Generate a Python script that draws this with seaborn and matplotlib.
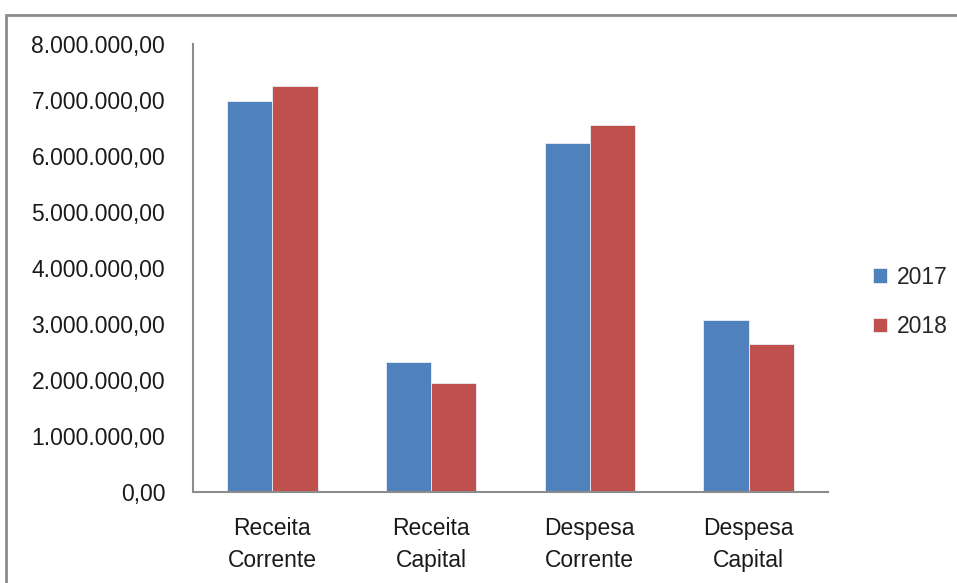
import numpy as np
import pandas as pd
import matplotlib
matplotlib.use("Agg")
import matplotlib.pyplot as plt
from matplotlib.patches import Rectangle
from matplotlib.ticker import FuncFormatter, FixedLocator, NullFormatter
import seaborn as sns

categories = ["Receita\nCorrente", "Receita\nCapital", "Despesa\nCorrente", "Despesa\nCapital"]
years = ["2017", "2018"]
values_2017 = [6_990_000, 2_320_000, 6_240_000, 3_080_000]
values_2018 = [7_250_000, 1_955_000, 6_560_000, 2_640_000]
colors = ["#4F81BD", "#C0504D"]

df = pd.DataFrame({
    "categoria": categories * 2,
    "ano": [years[0]] * len(categories) + [years[1]] * len(categories),
    "valor": values_2017 + values_2018,
})

sns.set_style("white")
plt.rcParams["font.family"] = ["Liberation Sans", "DejaVu Sans"]
FS = 16.5

W, H = 957, 583
fig = plt.figure(figsize=(W / 100, H / 100), dpi=100)
fig.patch.set_facecolor("white")

# outer chart-area border (extends past the right and bottom edges)
fig.patches.append(Rectangle((5.5 / W, -0.2), 1.5, 1.2 - 14.5 / H,
                             transform=fig.transFigure, fill=False,
                             edgecolor="#8c8c8c", linewidth=2, zorder=0))

ax = fig.add_axes([193 / W, 1 - 492 / H, (828 - 193) / W, (492 - 44) / H])
sns.barplot(data=df, x="categoria", y="valor", hue="ano", order=categories,
            hue_order=years, palette=colors, width=0.57, gap=0,
            saturation=1, edgecolor="#e8eef6", linewidth=0.6, ax=ax)

ax.set_ylim(0, 8_000_000)
ax.set_xlim(-0.5, len(categories) - 0.5)
ax.set_xlabel("")
ax.set_ylabel("")

def br_fmt(v, pos=None):
    s = f"{v:,.2f}"
    return s.replace(",", "X").replace(".", ",").replace("X", ".")

ax.yaxis.set_major_locator(FixedLocator(np.arange(0, 8_000_001, 1_000_000)))
ax.yaxis.set_major_formatter(FuncFormatter(br_fmt))

# category boundaries carry the tick marks, labels sit at centers
ax.xaxis.set_minor_locator(FixedLocator(np.arange(-0.5, len(categories), 1.0)))
ax.xaxis.set_minor_formatter(NullFormatter())
ax.tick_params(axis="x", which="major", length=0, pad=18, labelsize=FS,
               colors="#1a1a1a")
ax.tick_params(axis="x", which="minor", length=7, width=1.3, color="#8c8c8c",
               direction="out")
ax.tick_params(axis="y", which="major", length=7, width=1.3, color="#8c8c8c",
               direction="out", pad=13, labelsize=FS, labelcolor="#1a1a1a")
for lbl in ax.get_xticklabels():
    lbl.set_linespacing(1.5)

for side in ("top", "right"):
    ax.spines[side].set_visible(False)
for side in ("left", "bottom"):
    ax.spines[side].set_color("#8c8c8c")
    ax.spines[side].set_linewidth(1.5)

handles, labels = ax.get_legend_handles_labels()
ax.legend(handles, labels, loc="center left",
          bbox_to_anchor=(864 / W, 1 - 302 / H),
          bbox_transform=fig.transFigure, frameon=False, fontsize=FS,
          handlelength=0.6, handleheight=0.6, handletextpad=0.45,
          labelspacing=1.15, borderaxespad=0)

fig.savefig("out.png", dpi=100, facecolor="white")
